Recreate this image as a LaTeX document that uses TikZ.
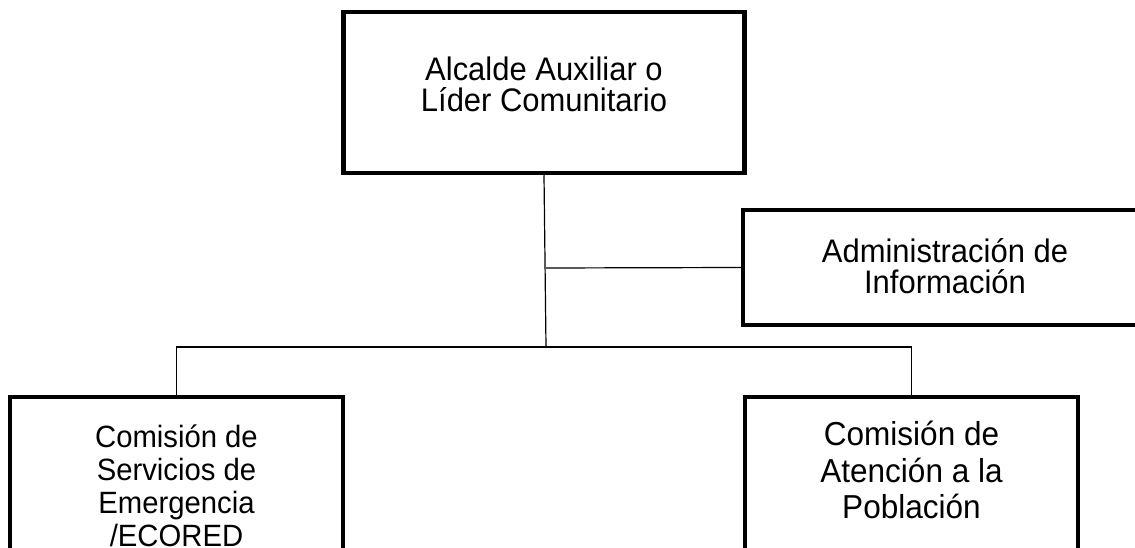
\documentclass[tikz,border=0pt]{standalone}
\usepackage{fontspec}
\setmainfont{Liberation Sans}
\newfontfamily\boxfont[FakeStretch=0.95]{Liberation Sans}
\usetikzlibrary{positioning}

\begin{document}
\begin{tikzpicture}[x=1pt,y=-1pt]
		\useasboundingbox (0,0) rectangle (1135,548);
		\clip (0,0) rectangle (1135,548);
		\begin{scope}[every node/.style={rectangle,draw,line width=4.5pt,align=center,inner sep=0pt}]
			\node (alc) at (544,92.5) [minimum width=401pt,minimum height=161pt,text depth=17pt,
				font={\boxfont\fontsize{32.6}{30.5}\selectfont\lineskiplimit=-50pt}] {Alcalde Auxiliar o\\Líder Comunitario};
			\node (adm) at (945,267.5) [minimum width=404pt,minimum height=115pt,text depth=3pt,
				font={\boxfont\fontsize{32.6}{31}\selectfont\lineskiplimit=-50pt}] {Administración de\\Información};

			\node (ser) at (176.5,473.5) [minimum width=333pt,minimum height=153pt,text height=147pt,
				font={\boxfont\fontsize{30.8}{33}\selectfont\lineskiplimit=-50pt}] {Comisión de\\Servicios de\\Emergencia\\/ECORED};
			\node (pob) at (911.5,473.5) [minimum width=333pt,minimum height=153pt,text depth=7pt,
				font={\boxfont\fontsize{33.2}{36.5}\selectfont\lineskiplimit=-50pt}] {Comisión de\\Atención a la\\Población};
		\end{scope}
		\coordinate (ja) at (546,268);
		\coordinate (jb) at (546,347);
		\begin{scope}[line width=1.2pt]
			\draw (alc.south) -- (jb);
			\draw (ja) -- (adm.west);
			\draw (ser.north) |- (jb) -| (pob.north);
		\end{scope}
	\end{tikzpicture}
\end{document}
